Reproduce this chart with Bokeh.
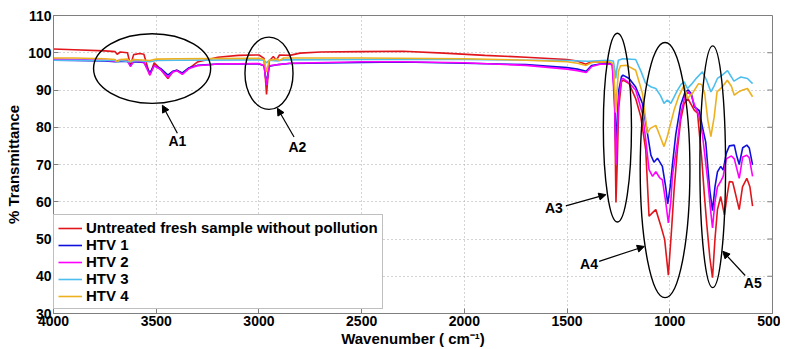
from bokeh.plotting import figure
from bokeh.models import (Range1d, Legend, LegendItem, Arrow, NormalHead,
                          Label, FixedTicker, ColumnDataSource)
from bokeh.embed import file_html
from bokeh.resources import INLINE

# ---------------- data (wavenumber cm^-1, % transmittance) ----------------
red_points = [(4000, 101.0), (3900, 100.8), (3750, 100.5), (3700, 100.3), (3690, 99.6), (3675, 100.2),
              (3640, 100.0), (3625, 96.6), (3610, 99.5), (3580, 99.8), (3560, 99.6), (3531, 94.0),
              (3510, 97.3), (3479, 95.6), (3443, 93.1), (3420, 94.8), (3400, 95.3), (3373, 94.4),
              (3340, 95.8), (3300, 97.5), (3200, 98.8), (3100, 99.3), (3000, 99.4), (2975, 98.5),
              (2963, 88.8), (2950, 97.8), (2930, 99.0), (2915, 98.0), (2900, 99.4), (2850, 99.3),
              (2800, 99.9), (2700, 100.2), (2500, 100.3), (2300, 100.4), (2100, 99.9), (1900, 99.3),
              (1700, 98.8), (1500, 98.2), (1450, 97.8), (1410, 96.9), (1380, 97.6), (1330, 97.5),
              (1290, 97.4), (1275, 96.5), (1268, 85.0), (1262, 59.8), (1256, 70.0), (1249, 85.0),
              (1235, 92.3), (1225, 92.6), (1198, 91.7), (1166, 87.7), (1141, 82.8), (1117, 73.9),
              (1101, 56.1), (1085, 57.0), (1068, 57.9), (1043, 53.4), (1025, 49.9), (1007, 40.3),
              (992, 52.0), (979, 63.2), (963, 73.9), (947, 81.9), (930, 86.4), (912, 87.7),
              (895, 86.0), (881, 84.6), (865, 83.8), (857, 79.0), (845, 72.0), (832, 62.0),
              (820, 54.0), (805, 45.0), (792, 39.6), (780, 50.0), (768, 57.9), (752, 61.4),
              (734, 56.5), (720, 62.0), (710, 65.4), (694, 65.3), (686, 63.5), (662, 57.9),
              (646, 64.0), (625, 66.3), (610, 64.0), (597, 58.8)]

blue_points = [(4000, 98.0), (3900, 97.9), (3750, 97.8), (3700, 97.6), (3640, 97.7), (3625, 96.6),
               (3610, 97.6), (3560, 97.4), (3531, 94.6), (3510, 96.5), (3479, 95.8), (3443, 94.0),
               (3420, 95.0), (3400, 95.3), (3373, 94.6), (3340, 96.0), (3300, 96.6), (3200, 97.0),
               (3000, 97.0), (2975, 96.5), (2963, 91.8), (2950, 96.4), (2910, 96.8), (2850, 97.1),
               (2500, 97.4), (2300, 97.5), (2000, 97.2), (1700, 96.8), (1500, 96.0), (1450, 95.6),
               (1407, 95.0), (1380, 96.6), (1340, 97.0), (1300, 97.1), (1280, 96.9), (1268, 88.0),
               (1262, 74.0), (1256, 82.0), (1248, 90.0), (1235, 93.6), (1228, 94.0), (1198, 93.1),
               (1166, 90.8), (1133, 86.4), (1109, 78.4), (1092, 72.5), (1077, 70.6), (1060, 71.7),
               (1036, 69.5), (1020, 64.0), (1010, 59.4), (998, 64.0), (987, 70.0), (971, 78.0),
               (947, 86.0), (925, 89.5), (910, 90.0), (895, 89.0), (881, 85.5), (857, 84.5),
               (841, 80.0), (825, 76.0), (816, 70.0), (805, 63.0), (792, 57.6), (780, 64.0),
               (768, 68.0), (752, 69.5), (740, 68.5), (725, 73.0), (710, 75.0), (686, 75.2),
               (675, 72.5), (662, 70.0), (645, 74.5), (625, 75.2), (613, 74.4), (597, 69.9)]

magenta_points = [(4000, 98.3), (3900, 98.2), (3750, 98.0), (3700, 97.7), (3680, 98.0), (3640, 97.9),
                  (3625, 96.3), (3610, 97.8), (3560, 97.5), (3531, 94.0), (3510, 96.5), (3479, 95.5),
                  (3443, 93.4), (3420, 94.8), (3400, 95.2), (3373, 94.2), (3340, 95.8), (3300, 96.5),
                  (3200, 97.0), (3000, 97.1), (2975, 96.5), (2963, 91.3), (2950, 96.5), (2910, 96.8),
                  (2850, 97.2), (2500, 97.6), (2300, 97.6), (2000, 97.3), (1700, 96.6), (1500, 95.6),
                  (1450, 95.2), (1407, 94.7), (1380, 96.3), (1340, 96.9), (1300, 97.0), (1280, 96.8),
                  (1268, 85.0), (1262, 70.0), (1256, 78.0), (1248, 88.0), (1235, 92.8), (1228, 93.1),
                  (1200, 92.0), (1166, 90.0), (1133, 83.7), (1117, 76.6), (1101, 68.6), (1084, 66.8),
                  (1068, 68.1), (1050, 66.5), (1036, 65.9), (1020, 60.0), (1007, 54.3), (995, 60.0),
                  (987, 67.0), (963, 76.0), (945, 84.0), (925, 88.5), (910, 89.5), (895, 88.5),
                  (880, 86.0), (857, 83.0), (841, 78.0), (832, 73.7), (816, 66.0), (800, 57.0),
                  (792, 53.0), (780, 60.0), (768, 64.0), (752, 65.5), (740, 66.8), (725, 71.5),
                  (700, 72.3), (686, 71.5), (662, 66.3), (645, 72.0), (625, 72.5), (613, 71.8),
                  (597, 66.8)]

cyan_points = [(4000, 98.0), (3900, 98.0), (3700, 97.9), (3690, 97.5), (3675, 97.9), (3625, 97.5),
               (3600, 97.9), (3531, 97.6), (3500, 97.9), (3400, 98.0), (3000, 98.1), (2975, 98.0),
               (2963, 97.3), (2950, 98.0), (2910, 97.8), (2880, 98.1), (2500, 98.2), (2000, 98.2),
               (1700, 98.0), (1500, 97.9), (1400, 97.7), (1300, 98.0), (1275, 97.8), (1268, 95.5),
               (1263, 93.1), (1258, 95.5), (1250, 98.0), (1229, 98.4), (1166, 98.2), (1140, 95.0),
               (1117, 91.7), (1090, 90.8), (1068, 90.4), (1045, 88.5), (1028, 86.4), (1012, 87.3),
               (995, 86.4), (980, 88.0), (963, 89.9), (945, 91.5), (930, 92.2), (914, 90.4),
               (895, 91.5), (870, 93.2), (841, 94.9), (820, 92.5), (800, 89.5), (785, 91.0),
               (768, 93.1), (745, 94.0), (719, 95.2), (700, 93.5), (688, 92.4), (670, 93.0),
               (654, 93.5), (622, 93.1), (597, 91.7)]

orange_points = [(4000, 98.6), (3900, 98.6), (3750, 98.4), (3700, 98.2), (3690, 97.6), (3675, 98.2),
                 (3640, 98.3), (3625, 97.6), (3610, 98.2), (3531, 97.9), (3500, 98.3), (3400, 98.4),
                 (3000, 98.5), (2975, 98.2), (2963, 94.8), (2950, 98.0), (2910, 98.3), (2900, 97.9),
                 (2880, 98.6), (2500, 98.6), (2000, 98.4), (1700, 98.0), (1500, 97.6), (1450, 97.2),
                 (1407, 96.6), (1380, 97.4), (1330, 97.6), (1290, 97.5), (1275, 97.0), (1268, 90.0),
                 (1263, 84.0), (1258, 89.0), (1250, 95.0), (1240, 96.5), (1210, 96.6), (1166, 95.3),
                 (1133, 89.1), (1109, 78.4), (1095, 79.7), (1068, 80.5), (1053, 78.4), (1028, 74.8),
                 (1012, 77.5), (979, 84.6), (957, 88.2), (930, 91.3), (914, 87.7), (890, 89.1),
                 (860, 91.7), (845, 91.5), (830, 89.0), (815, 82.0), (800, 77.5), (784, 82.7),
                 (770, 89.5), (745, 90.8), (720, 92.6), (700, 91.0), (686, 88.6), (665, 89.5),
                 (645, 90.0), (622, 90.4), (597, 88.2)]

series_labels = ["Untreated fresh sample without pollution", "HTV 1", "HTV 2", "HTV 3", "HTV 4"]
series_colors = ["#e0161c", "#1010dd", "#ff00ff", "#4dbeee", "#edb120"]

x_ticks = [500, 1000, 1500, 2000, 2500, 3000, 3500, 4000]
y_ticks = [30, 40, 50, 60, 70, 80, 90, 100, 110]

# annotation ellipses: label, centre wavenumber, centre T, width, height
ell_names = ["A1", "A2", "A3", "A4", "A5"]
ell_x = [3520, 2951, 1255, 1023, 791]
ell_y = [95.75, 94.5, 79.9, 68.5, 69.4]
ell_w = [570, 234, 137, 242, 125]
ell_h = [18.7, 19.4, 50.8, 68.5, 64.9]
# arrows (tail -> head) and label positions
arr_x0 = [3397, 2829, 1506, 1344, 633]
arr_y0 = [78.4, 77.4, 58.9, 44.0, 40.2]
arr_x1 = [3470, 2910, 1311, 1124, 742]
arr_y1 = [85.9, 85.1, 61.9, 48.0, 46.7]
lab_x = [3397, 2813, 1564, 1393, 596]
lab_y = [76.2, 74.6, 58.3, 43.2, 38.3]

FONT = "Liberation Sans"
FRAME_GREY = "#7f7f7f"

p = figure(width=780, height=349, x_range=Range1d(4000, 500), y_range=Range1d(30, 110),
           output_backend="svg", toolbar_location=None,
           min_border_left=53, min_border_right=8, min_border_top=15, min_border_bottom=35)
p.background_fill_color = "white"
p.border_fill_color = "white"
p.outline_line_color = FRAME_GREY
p.outline_line_width = 1

p.xaxis.ticker = FixedTicker(ticks=x_ticks)
p.yaxis.ticker = FixedTicker(ticks=y_ticks)
for ax in (p.xaxis, p.yaxis):
    ax.major_label_text_font = FONT
    ax.major_label_text_font_style = "bold"
    ax.major_label_text_font_size = "14px"
    ax.major_label_text_color = "black"
    ax.axis_line_color = FRAME_GREY
    ax.major_tick_line_color = FRAME_GREY
    ax.major_tick_in = 5
    ax.major_tick_out = 0
    ax.minor_tick_line_color = None
    ax.axis_label_text_font = FONT
    ax.axis_label_text_font_style = "bold"
    ax.axis_label_text_font_size = "15px"
    ax.axis_label_text_color = "black"
    ax.major_label_standoff = 2
p.xaxis.axis_label = "Wavenumber ( cm\u207b\u00b9)"
p.yaxis.axis_label = "% Transmittance"
p.xaxis.axis_label_standoff = 1
p.yaxis.axis_label_standoff = 3

p.grid.grid_line_color = "#a8a8a8"
p.grid.grid_line_dash = "1 3"
p.grid.grid_line_width = 1

# inward tick marks on the right edge of the box
p.segment(x0=[x_ticks[0] + 25] * len(y_ticks), x1=[x_ticks[0]] * len(y_ticks),
          y0=y_ticks, y1=y_ticks, line_color=FRAME_GREY, line_width=1)

all_points = [red_points, blue_points, magenta_points, cyan_points, orange_points]
renderers = []
for pts, col in zip(all_points, series_colors):
    src = ColumnDataSource(dict(wn=[a for a, b in pts], t=[b for a, b in pts]))
    r = p.line("wn", "t", source=src, line_color=col, line_width=1.6)
    renderers.append(r)

# ellipses, arrows, labels
p.ellipse(x=ell_x, y=ell_y, width=ell_w, height=ell_h, fill_alpha=0,
          line_color="black", line_width=1.4)
for i in range(len(ell_names)):
    p.add_layout(Arrow(end=NormalHead(size=7, fill_color="black", line_color="black"),
                       x_start=arr_x0[i], y_start=arr_y0[i], x_end=arr_x1[i], y_end=arr_y1[i],
                       line_color="black", line_width=1.2))
    p.add_layout(Label(x=lab_x[i], y=lab_y[i], text=ell_names[i], text_font=FONT,
                       text_font_style="bold", text_font_size="14px", text_color="black",
                       text_align="center", text_baseline="middle"))

legend = Legend(items=[LegendItem(label=lab, renderers=[r]) for lab, r in zip(series_labels, renderers)],
                location=(0, 4), margin=0, padding=4, spacing=0,
                label_text_font=FONT, label_text_font_style="bold", label_text_font_size="15px",
                label_text_color="black", glyph_width=24, glyph_height=16, label_height=16,
                label_standoff=4, border_line_color=FRAME_GREY, background_fill_alpha=1.0)
p.add_layout(legend)

open("out.html", "w").write(file_html(p, INLINE))
